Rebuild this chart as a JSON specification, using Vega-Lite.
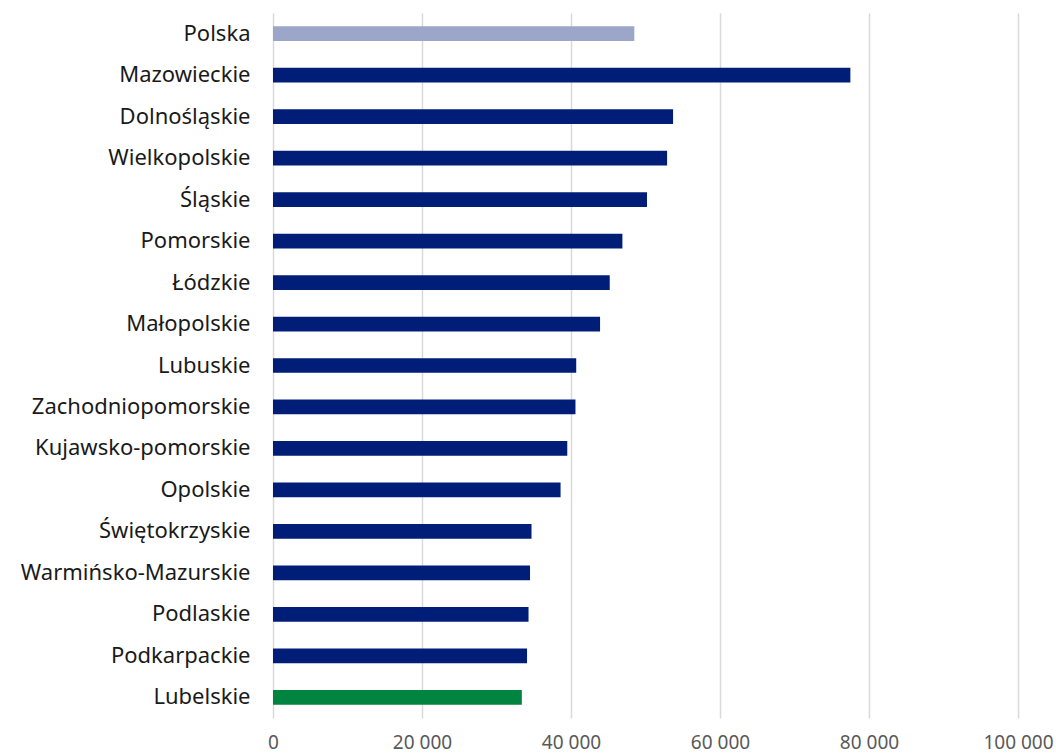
{
  "$schema": "https://vega.github.io/schema/vega-lite/v6.json",
  "width": 745,
  "height": 705,
  "autosize": "none",
  "padding": {"left": 273, "top": 13, "right": 38, "bottom": 35},
  "config": {
    "view": {"stroke": null},
    "locale": {"number": {"decimal": ",", "thousands": " ", "grouping": [3], "currency": ["", " zł"]}},
    "font": "Noto Sans"
  },
  "data": {
    "values": [
      {"region": "Polska", "value": 48500, "group": "pl"},
      {"region": "Mazowieckie", "value": 77500, "group": "woj"},
      {"region": "Dolnośląskie", "value": 53700, "group": "woj"},
      {"region": "Wielkopolskie", "value": 52900, "group": "woj"},
      {"region": "Śląskie", "value": 50200, "group": "woj"},
      {"region": "Pomorskie", "value": 46900, "group": "woj"},
      {"region": "Łódzkie", "value": 45200, "group": "woj"},
      {"region": "Małopolskie", "value": 43900, "group": "woj"},
      {"region": "Lubuskie", "value": 40700, "group": "woj"},
      {"region": "Zachodniopomorskie", "value": 40600, "group": "woj"},
      {"region": "Kujawsko-pomorskie", "value": 39500, "group": "woj"},
      {"region": "Opolskie", "value": 38600, "group": "woj"},
      {"region": "Świętokrzyskie ", "value": 34700, "group": "woj"},
      {"region": "Warmińsko-Mazurskie", "value": 34500, "group": "woj"},
      {"region": "Podlaskie", "value": 34300, "group": "woj"},
      {"region": "Podkarpackie", "value": 34100, "group": "woj"},
      {"region": "Lubelskie", "value": 33400, "group": "lub"}
    ]
  },
  "mark": {"type": "bar"},
  "encoding": {
    "y": {
      "field": "region",
      "type": "nominal",
      "sort": null,
      "scale": {"paddingInner": 0.645, "paddingOuter": 0.3225},
      "axis": {
        "title": null,
        "domain": false,
        "ticks": false,
        "labelFontSize": 22,
        "labelColor": "#1a1a1a",
        "labelPadding": 23,
        "labelLimit": 300,
        "labelFont": "Noto Sans"
      }
    },
    "x": {
      "field": "value",
      "type": "quantitative",
      "scale": {"domain": [0, 100000], "nice": false},
      "axis": {
        "title": null,
        "values": [0, 20000, 40000, 60000, 80000, 100000],
        "format": ",d",
        "domain": false,
        "ticks": false,
        "grid": true,
        "gridColor": "#D9D9D9",
        "gridWidth": 1.5,
        "labelFlush": false,
        "labelFontSize": 19,
        "labelColor": "#595959",
        "labelPadding": 15,
        "labelFont": "Noto Sans"
      }
    },
    "color": {
      "field": "group",
      "type": "nominal",
      "scale": {"domain": ["pl", "woj", "lub"], "range": ["#9BA6C9", "#001E78", "#00843F"]},
      "legend": null
    }
  }
}
